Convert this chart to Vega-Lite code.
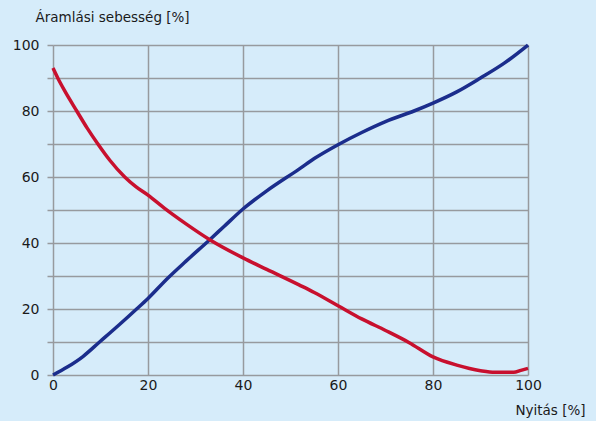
{
  "$schema": "https://vega.github.io/schema/vega-lite/v6.json",
  "width": 475,
  "height": 330,
  "autosize": "none",
  "padding": {"left": 53, "top": 45, "right": 68, "bottom": 46},
  "background": "#d6ecfa",
  "config": {
    "view": {"stroke": null},
    "font": "DejaVu Sans"
  },
  "data": {
    "values": [
      {"x": 0, "y": 0, "s": "A"}, {"x": 3, "y": 2.4, "s": "A"}, {"x": 6.3, "y": 5.6, "s": "A"},
      {"x": 9.8, "y": 10, "s": "A"}, {"x": 14, "y": 15.3, "s": "A"}, {"x": 17.6, "y": 20, "s": "A"},
      {"x": 20, "y": 23.2, "s": "A"}, {"x": 24.2, "y": 29.4, "s": "A"}, {"x": 28, "y": 34.5, "s": "A"},
      {"x": 33, "y": 41, "s": "A"}, {"x": 36, "y": 45, "s": "A"}, {"x": 40, "y": 50.3, "s": "A"},
      {"x": 45, "y": 55.8, "s": "A"}, {"x": 51.8, "y": 62.4, "s": "A"}, {"x": 55, "y": 65.6, "s": "A"},
      {"x": 60, "y": 69.8, "s": "A"}, {"x": 65, "y": 73.5, "s": "A"}, {"x": 70, "y": 76.8, "s": "A"},
      {"x": 76, "y": 80, "s": "A"}, {"x": 80, "y": 82.4, "s": "A"}, {"x": 85, "y": 85.8, "s": "A"},
      {"x": 90, "y": 90, "s": "A"}, {"x": 95, "y": 94.5, "s": "A"}, {"x": 100, "y": 100, "s": "A"},
      {"x": 0, "y": 93, "s": "B"}, {"x": 1, "y": 90, "s": "B"}, {"x": 2.5, "y": 86, "s": "B"},
      {"x": 5, "y": 80, "s": "B"}, {"x": 7.2, "y": 74.8, "s": "B"}, {"x": 9.45, "y": 70, "s": "B"},
      {"x": 12, "y": 65, "s": "B"}, {"x": 15.1, "y": 60, "s": "B"}, {"x": 17.5, "y": 57, "s": "B"},
      {"x": 20, "y": 54.5, "s": "B"}, {"x": 23.5, "y": 50.5, "s": "B"}, {"x": 28, "y": 45.8, "s": "B"},
      {"x": 33, "y": 41, "s": "B"}, {"x": 40, "y": 35.5, "s": "B"}, {"x": 45, "y": 32, "s": "B"},
      {"x": 51.8, "y": 27.3, "s": "B"}, {"x": 55, "y": 25, "s": "B"}, {"x": 60, "y": 21, "s": "B"},
      {"x": 65, "y": 17, "s": "B"}, {"x": 70, "y": 13.5, "s": "B"}, {"x": 75, "y": 9.8, "s": "B"},
      {"x": 80, "y": 5.5, "s": "B"}, {"x": 85, "y": 3, "s": "B"}, {"x": 90, "y": 1.3, "s": "B"},
      {"x": 93, "y": 0.8, "s": "B"}, {"x": 97, "y": 0.8, "s": "B"}, {"x": 98.5, "y": 1.4, "s": "B"},
      {"x": 100, "y": 2, "s": "B"}
    ]
  },
  "mark": {"type": "line", "strokeWidth": 3.5, "interpolate": "monotone"},
  "encoding": {
    "x": {
      "field": "x", "type": "quantitative",
      "scale": {"domain": [0, 100], "nice": false},
      "axis": {
        "values": [0, 20, 40, 60, 80, 100],
        "domain": false, "ticks": false,
        "grid": true, "gridColor": "#979a9e", "gridWidth": 1.5, "gridOpacity": 1,
        "labelFont": "DejaVu Sans", "labelFontSize": 14, "labelColor": "#1a1a1a", "labelPadding": 3,
        "labelFlush": false,
        "title": "Nyitás [%]", "titleFont": "DejaVu Sans", "titleFontSize": 13.5, "titleFontWeight": "normal",
        "titleColor": "#1a1a1a", "titleAngle": 0, "titleAlign": "right", "titleBaseline": "middle",
        "titleX": 532, "titleY": 35
      }
    },
    "y": {
      "field": "y", "type": "quantitative",
      "scale": {"domain": [0, 100], "nice": false},
      "axis": {
        "values": [0, 10, 20, 30, 40, 50, 60, 70, 80, 90, 100],
        "labelExpr": "datum.value % 20 === 0 ? datum.label : ''",
        "domain": false, "ticks": true, "tickSize": 6, "tickColor": "#979a9e", "tickWidth": 1.5,
        "grid": true, "gridColor": "#979a9e", "gridWidth": 1.5, "gridOpacity": 1,
        "labelFont": "DejaVu Sans", "labelFontSize": 14, "labelColor": "#1a1a1a", "labelPadding": 8,
        "labelFlush": false,
        "title": "Áramlási sebesség [%]", "titleFont": "DejaVu Sans", "titleFontSize": 13.5, "titleFontWeight": "normal",
        "titleColor": "#1a1a1a", "titleAngle": 0, "titleAlign": "left", "titleBaseline": "middle",
        "titleX": -18, "titleY": -28
      }
    },
    "color": {
      "field": "s", "type": "nominal",
      "scale": {"domain": ["A", "B"], "range": ["#1b2d8c", "#c8102e"]},
      "legend": null
    }
  }
}
